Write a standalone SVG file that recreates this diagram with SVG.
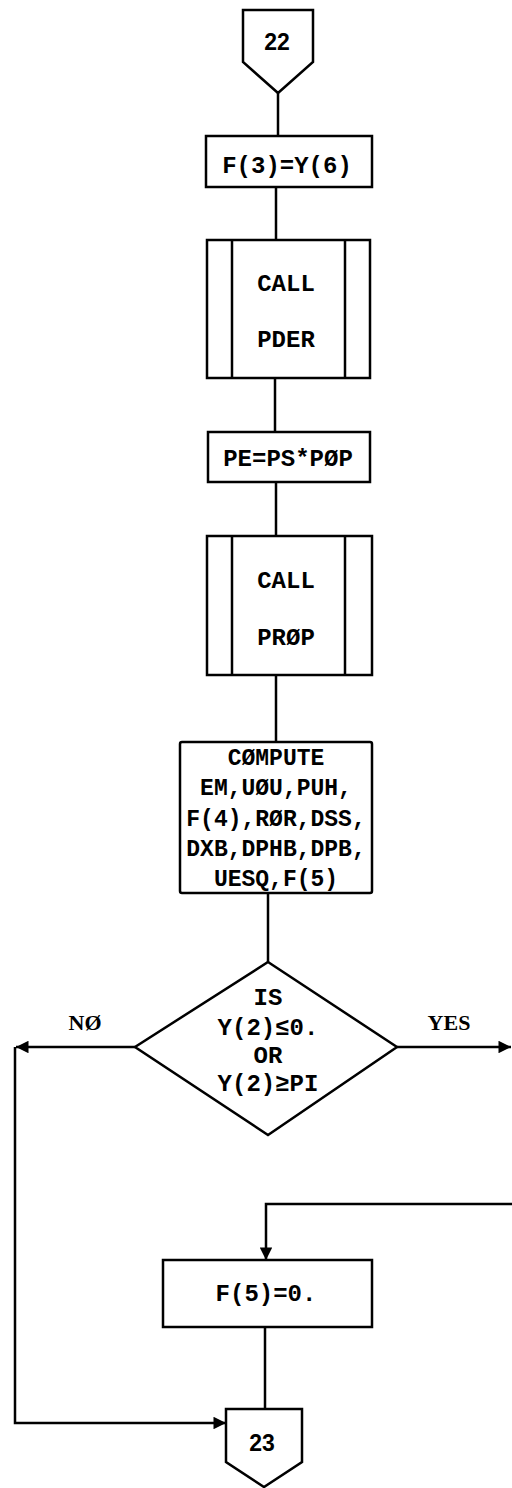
<svg xmlns="http://www.w3.org/2000/svg" width="512" height="1488" viewBox="0 0 512 1488">
<style>
.s{fill:#fff;stroke:#000;stroke-width:2.5}
.l{fill:none;stroke:#000;stroke-width:2.5}
.t{font-family:"Liberation Mono","Courier New",monospace;font-size:24px;font-weight:bold;text-anchor:middle;fill:#000}
.c{font-family:"Liberation Sans",Arial,sans-serif;font-size:23px;font-weight:bold;text-anchor:middle;fill:#000}
.y{font-family:"Liberation Serif","Times New Roman",serif;font-size:22px;font-weight:bold;text-anchor:middle;fill:#000}
</style>
<defs>
<marker id="ah" viewBox="0 0 10 10" refX="10" refY="5" markerWidth="6" markerHeight="5" markerUnits="strokeWidth" orient="auto">
<path d="M0,0 L10,5 L0,10 z" fill="#000"/>
</marker>
</defs>
<g id="connectors">
<line class="l" x1="278" y1="93" x2="278" y2="136"/>
<line class="l" x1="276" y1="187" x2="276" y2="240"/>
<line class="l" x1="275" y1="378" x2="275" y2="432"/>
<line class="l" x1="276" y1="482" x2="276" y2="536"/>
<line class="l" x1="276" y1="675" x2="276" y2="742"/>
<line class="l" x1="268" y1="893" x2="268" y2="962"/>
<line class="l" x1="135" y1="1047" x2="16" y2="1047" marker-end="url(#ah)"/>
<polyline class="l" points="15,1047 15,1423 226,1423" marker-end="url(#ah)"/>
<line class="l" x1="397" y1="1047" x2="511" y2="1047" marker-end="url(#ah)"/>
<polyline class="l" points="512,1204 266,1204 266,1260" marker-end="url(#ah)"/>
<line class="l" x1="265" y1="1327" x2="265" y2="1409"/>
<text class="y" x="85" y="1030">NØ</text>
<text class="y" x="449" y="1030">YES</text>
</g>
<g id="n22">
<polygon class="s" points="243,10 313,10 313,62 278,93 243,62"/>
<text class="c" x="277" y="50">22</text>
</g>
<g id="nF3">
<rect class="s" x="206" y="136" width="166" height="51"/>
<text class="t" x="287" y="173">F(3)=Y(6)</text>
</g>
<g id="nPDER">
<rect class="s" x="207" y="240" width="163" height="138"/>
<line class="l" x1="232" y1="240" x2="232" y2="378"/>
<line class="l" x1="345" y1="240" x2="345" y2="378"/>
<text class="t" x="286" y="291">CALL</text>
<text class="t" x="286" y="347">PDER</text>
</g>
<g id="nPE">
<rect class="s" x="208" y="432" width="162" height="50"/>
<text class="t" x="288" y="466">PE=PS*PØP</text>
</g>
<g id="nPROP">
<rect class="s" x="207" y="536" width="165" height="139"/>
<line class="l" x1="232" y1="536" x2="232" y2="675"/>
<line class="l" x1="345" y1="536" x2="345" y2="675"/>
<text class="t" x="286" y="588">CALL</text>
<text class="t" x="286" y="645">PRØP</text>
</g>
<g id="nCompute">
<rect class="s" x="180" y="742" width="192" height="151" rx="2"/>
<text class="t" x="276" y="765" style="font-size:23px">CØMPUTE</text>
<text class="t" x="276" y="795" style="font-size:23px">EM,UØU,PUH,</text>
<text class="t" x="276" y="826" style="font-size:23px">F(4),RØR,DSS,</text>
<text class="t" x="276" y="856" style="font-size:23px">DXB,DPHB,DPB,</text>
<text class="t" x="276" y="886" style="font-size:23px">UESQ,F(5)</text>
</g>
<g id="nDecision">
<polygon class="s" points="268,962 397,1047 268,1135 135,1047"/>
<text class="t" x="268" y="1005">IS</text>
<text class="t" x="268" y="1035">Y(2)≤0.</text>
<text class="t" x="268" y="1063">OR</text>
<text class="t" x="268" y="1091">Y(2)≥PI</text>
</g>
<g id="nF5">
<rect class="s" x="163" y="1260" width="209" height="67"/>
<text class="t" x="266" y="1301">F(5)=0.</text>
</g>
<g id="n23">
<polygon class="s" points="226,1409 302,1409 302,1462 264,1487 226,1462"/>
<text class="c" x="262" y="1451">23</text>
</g>
</svg>
